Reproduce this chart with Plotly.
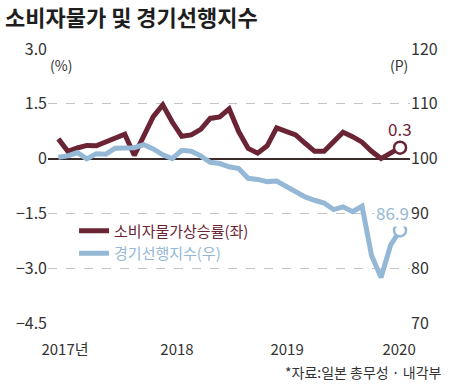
import plotly.graph_objects as go

months = list(range(37))
cpi = [0.54, 0.2, 0.29, 0.36, 0.35, 0.46, 0.58, 0.67, 0.09, 0.65, 1.15, 1.47,
       1.0, 0.61, 0.65, 0.8, 1.1, 1.14, 1.36, 0.74, 0.28, 0.15, 0.35, 0.84,
       0.74, 0.65, 0.42, 0.2, 0.2, 0.45, 0.72, 0.6, 0.45, 0.2, 0.0, 0.15, 0.3]
lead = [100.24, 100.5, 101.1, 99.95, 100.9, 100.8, 101.9, 102.0, 102.0, 102.55, 101.76, 100.7,
        100.0, 101.5, 101.33, 100.5, 99.33, 99.1, 98.5, 98.2, 96.4, 96.2, 95.8, 95.9,
        95.0, 94.0, 93.0, 92.4, 91.9, 90.7, 91.2, 90.3, 91.3, 82.3, 78.3, 84.2, 86.9]

x_tickvals = [0.7, 12.5, 24.1, 35.9]
x_ticktext = ["2017년", "2018", "2019", "2020"]
left_ticks = [-4.5, -3.0, -1.5, 0, 1.5, 3.0]
left_text = ["−4.5", "−3.0", "−1.5", "0", "1.5", "3.0"]
right_ticks = [70, 80, 90, 100, 110, 120]

RED = "#6b2434"
BLUE = "#94b8d6"
FONT = "Noto Sans CJK KR"

fig = go.Figure()
fig.add_trace(go.Scatter(
    x=months, y=cpi, mode="lines", name=f"<span style='color:{RED}'>소비자물가상승률(좌)</span>",
    line=dict(color=RED, width=5), yaxis="y"))
fig.add_trace(go.Scatter(
    x=months, y=lead, mode="lines", name=f"<span style='color:{BLUE}'>경기선행지수(우)</span>",
    line=dict(color=BLUE, width=5), yaxis="y2"))
# end markers
fig.add_trace(go.Scatter(
    x=[months[-1]], y=[cpi[-1]], mode="markers", showlegend=False,
    marker=dict(size=12, color="white", line=dict(color=RED, width=2.5)), yaxis="y"))
fig.add_trace(go.Scatter(
    x=[months[-1]], y=[lead[-1]], mode="markers", showlegend=False,
    marker=dict(size=12, color="white", line=dict(color=BLUE, width=2.5)), yaxis="y2"))

fig.update_layout(
    width=450, height=386,
    margin=dict(l=48, r=40, t=49, b=63),
    paper_bgcolor="white", plot_bgcolor="white",
    font=dict(family=FONT, color="#333"),
    title=dict(text="<b>소비자물가 및 경기선행지수</b>", x=0.011, xanchor="left",
               y=0.952, yanchor="middle", font=dict(size=22, color="#1e1e1e", family=FONT)),
    xaxis=dict(range=[-1.09, 37.05], tickvals=x_tickvals, ticktext=x_ticktext,
               showgrid=False, zeroline=False, showline=False,
               ticks="outside", ticklen=13, tickcolor="rgba(0,0,0,0)",
               tickfont=dict(size=15, color="#333", family=FONT)),
    yaxis=dict(range=[-4.5, 3.0], tickvals=left_ticks, ticktext=left_text,
               showgrid=True, gridcolor="#c4c4c4", griddash="dash", gridwidth=1,
               zeroline=True, zerolinecolor="#3a2a2a", zerolinewidth=1.5,
               showline=False, tickfont=dict(size=16, color="#333", family=FONT)),
    yaxis2=dict(range=[70, 120], tickvals=right_ticks, overlaying="y", side="right",
                showgrid=False, zeroline=False, showline=False,
                tickfont=dict(size=16, color="#333", family=FONT)),
    legend=dict(x=0.072, y=0.396, xanchor="left", yanchor="top",
                bgcolor="rgba(0,0,0,0)", font=dict(size=15, family=FONT),
                tracegroupgap=0, itemwidth=30),
    showlegend=True,
)

fig.add_annotation(text="(%)", xref="paper", yref="paper", x=0, y=1, xanchor="left",
                   yanchor="top", yshift=-4, showarrow=False, font=dict(size=14, color="#333"))
fig.add_annotation(text="(P)", xref="paper", yref="paper", x=1, y=1, xanchor="right",
                   yanchor="top", yshift=-4, showarrow=False, font=dict(size=14, color="#333"))
fig.add_annotation(text=f"{cpi[-1]:.1f}", x=months[-1], y=cpi[-1], yref="y",
                   yshift=19, showarrow=False, font=dict(size=17, color=RED, family=FONT))
fig.add_annotation(text=f"{lead[-1]:.1f}", x=months[-1], y=lead[-1], yref="y2",
                   xshift=-8, yshift=18, showarrow=False, bgcolor="white",
                   font=dict(size=17, color=BLUE, family=FONT))
fig.add_annotation(text="*자료:일본 총무성 · 내각부", xref="paper", yref="paper",
                   x=1.094, y=-0.179, xanchor="right", yanchor="middle", showarrow=False,
                   font=dict(size=14, color="#333", family=FONT))

fig.write_html("out.html", config={"displayModeBar": False},
               post_script="document.body.style.margin='0';")
